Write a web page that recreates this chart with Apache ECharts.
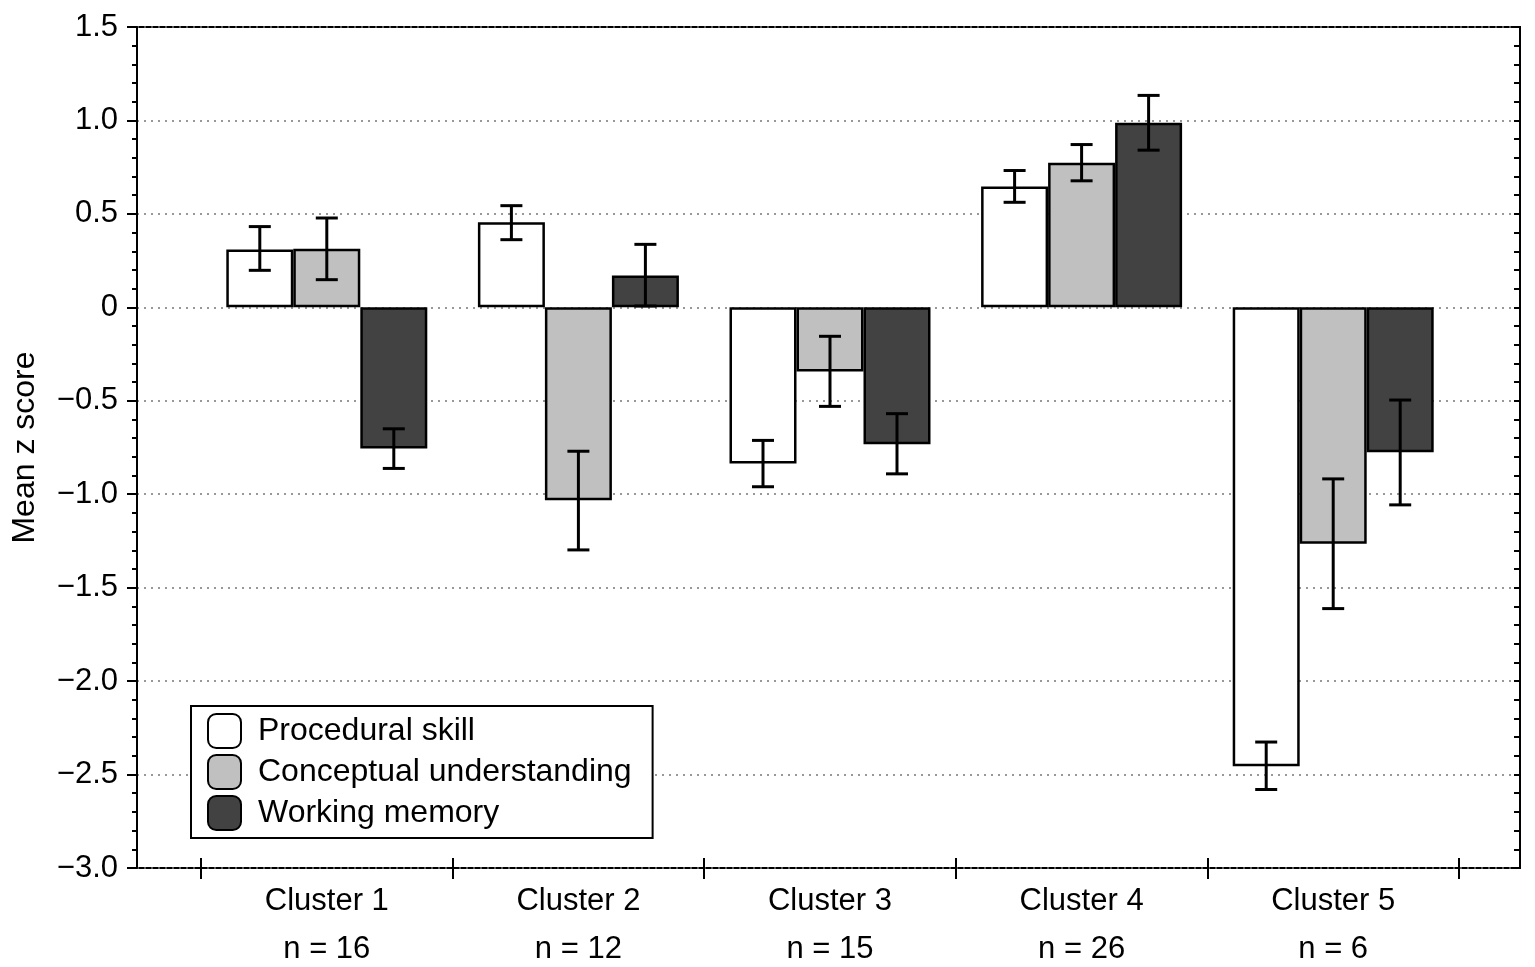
<!DOCTYPE html>
<html lang="en">
<head>
    <meta charset="UTF-8">
    <title>Mean z score by cluster</title>
    <script src="https://cdn.jsdelivr.net/npm/echarts@6/dist/echarts.min.js"></script>
    <style>
        html, body { margin: 0; padding: 0; background: #fff; }
        #chart { width: 1535px; height: 967px; }
    </style>
</head>
<body>
<div id="chart"></div>
<script type="text/javascript">
    // data
    var clusters = ['Cluster 1', 'Cluster 2', 'Cluster 3', 'Cluster 4', 'Cluster 5'];
    var groupSizes = [16, 12, 15, 26, 6];
    var seriesNames = ['Procedural skill', 'Conceptual understanding', 'Working memory'];

    var procedural = [0.31, 0.455, -0.836, 0.646, -2.455];
    var proceduralLow = [0.198, 0.362, -0.96, 0.562, -2.58];
    var proceduralHigh = [0.432, 0.544, -0.712, 0.732, -2.326];

    var conceptual = [0.314, -1.032, -0.344, 0.773, -1.265];
    var conceptualLow = [0.148, -1.298, -0.53, 0.677, -1.612];
    var conceptualHigh = [0.478, -0.77, -0.155, 0.871, -0.918];

    var memory = [-0.755, 0.171, -0.732, 0.988, -0.776];
    var memoryLow = [-0.862, 0.007, -0.891, 0.841, -1.057];
    var memoryHigh = [-0.65, 0.337, -0.569, 1.134, -0.496];

    var colors = ['#ffffff', '#c0c0c0', '#424242'];
    var font = 'Liberation Sans, Arial, sans-serif';
    var barW = 67;

    var chart = echarts.init(document.getElementById('chart'));

    // error bar rows: [cluster index, low, high, series index]
    var errRows = [];
    [[proceduralLow, proceduralHigh], [conceptualLow, conceptualHigh], [memoryLow, memoryHigh]].forEach(function (p, s) {
        for (var i = 0; i < clusters.length; i++) {
            errRows.push([i, p[0][i], p[1][i], s]);
        }
    });

    function minusFmt(v) {
        if (Math.abs(v) < 1e-9) return '0';
        var t = Math.abs(v).toFixed(1);
        return v < 0 ? '\u2212' + t : t;
    }

    var yCommon = { type: 'value', min: -3, max: 1.5, interval: 0.5 };

    function barSeries(name, values, idx) {
        return {
            name: name,
            type: 'bar',
            xAxisIndex: 0,
            yAxisIndex: 2,
            data: values,
            barWidth: barW,
            barGap: '0%',
            itemStyle: { color: colors[idx], borderColor: '#000', borderWidth: 2.5 },
            emphasis: { disabled: true },
            z: 3
        };
    }

    var option = {
        animation: false,
        backgroundColor: '#fff',
        textStyle: { fontFamily: font, color: '#000' },
        grid: [
            { left: 137, right: 15, top: 27, bottom: 99, outerBoundsMode: 'none', containLabel: false,
              show: true, borderColor: '#000', borderWidth: 2, backgroundColor: 'transparent' },
            { left: 201, right: 76, top: 27, bottom: 99, outerBoundsMode: 'none', containLabel: false }
        ],
        legend: {
            data: seriesNames,
            orient: 'vertical',
            left: 191,
            top: 706,
            padding: [7, 21, 7, 16],
            itemWidth: 33,
            itemHeight: 34,
            itemGap: 5,
            icon: 'roundRect',
            borderColor: '#000',
            borderWidth: 2,
            backgroundColor: '#fff',
            z: 10,
            textStyle: { fontFamily: font, fontSize: 32, color: '#000', padding: [0, 0, 0, 12] }
        },
        xAxis: [
            {
                type: 'category',
                gridIndex: 1,
                position: 'bottom',
                data: clusters,
                axisLine: { show: false, onZero: false },
                axisTick: { show: true, length: 11, lineStyle: { color: '#000', width: 2 } },
                axisLabel: {
                    fontFamily: font, fontSize: 31, color: '#000', lineHeight: 48, margin: 9,
                    formatter: function (v, i) { return v + '\nn = ' + groupSizes[i]; }
                },
                splitLine: { show: false }
            },
            {
                type: 'category',
                gridIndex: 1,
                position: 'bottom',
                data: clusters,
                axisLine: { show: false, onZero: false },
                axisTick: { show: true, inside: true, length: 10, lineStyle: { color: '#000', width: 2 } },
                axisLabel: { show: false },
                splitLine: { show: false }
            },
            {
                type: 'value',
                gridIndex: 0,
                min: 0,
                max: 1,
                show: false
            }
        ],
        yAxis: [
            Object.assign({}, yCommon, {
                gridIndex: 0,
                name: 'Mean z score',
                nameLocation: 'middle',
                nameGap: 96,
                nameRotate: 90,
                nameTextStyle: { fontFamily: font, fontSize: 32, color: '#000' },
                axisLine: { show: true, lineStyle: { color: '#000', width: 2 } },
                axisTick: { show: true, length: 10, lineStyle: { color: '#000', width: 2 } },
                minorTick: { show: true, splitNumber: 5, length: 5, lineStyle: { color: '#000', width: 2 } },
                axisLabel: { fontFamily: font, fontSize: 31, color: '#000', margin: 19, formatter: minusFmt },
                splitLine: { show: true, lineStyle: { color: '#777', type: [2, 5], width: 1.5 } }
            }),
            Object.assign({}, yCommon, {
                gridIndex: 0,
                axisLine: { show: false },
                axisTick: { show: true, inside: true, length: 6, lineStyle: { color: '#000', width: 2 } },
                minorTick: { show: true, splitNumber: 5, length: 6, lineStyle: { color: '#000', width: 2 } },
                axisLabel: { show: false },
                splitLine: { show: false }
            }),
            Object.assign({}, yCommon, {
                gridIndex: 1,
                show: false
            })
        ],
        series: [
            barSeries(seriesNames[0], procedural, 0),
            barSeries(seriesNames[1], conceptual, 1),
            barSeries(seriesNames[2], memory, 2),
            {
                type: 'custom',
                xAxisIndex: 0,
                yAxisIndex: 2,
                data: errRows,
                z: 5,
                silent: true,
                renderItem: function (params, api) {
                    var off = (api.value(3) - 1) * barW;
                    var lo = api.coord([api.value(0), api.value(1)]);
                    var hi = api.coord([api.value(0), api.value(2)]);
                    var x = lo[0] + off;
                    var hw = 11;
                    var st = { stroke: '#000', lineWidth: 3 };
                    return {
                        type: 'group',
                        children: [
                            { type: 'line', shape: { x1: x, y1: lo[1], x2: x, y2: hi[1] }, style: st },
                            { type: 'line', shape: { x1: x - hw, y1: lo[1], x2: x + hw, y2: lo[1] }, style: st },
                            { type: 'line', shape: { x1: x - hw, y1: hi[1], x2: x + hw, y2: hi[1] }, style: st }
                        ]
                    };
                }
            }
        ]
    };

    chart.setOption(option);
</script>
</body>
</html>
